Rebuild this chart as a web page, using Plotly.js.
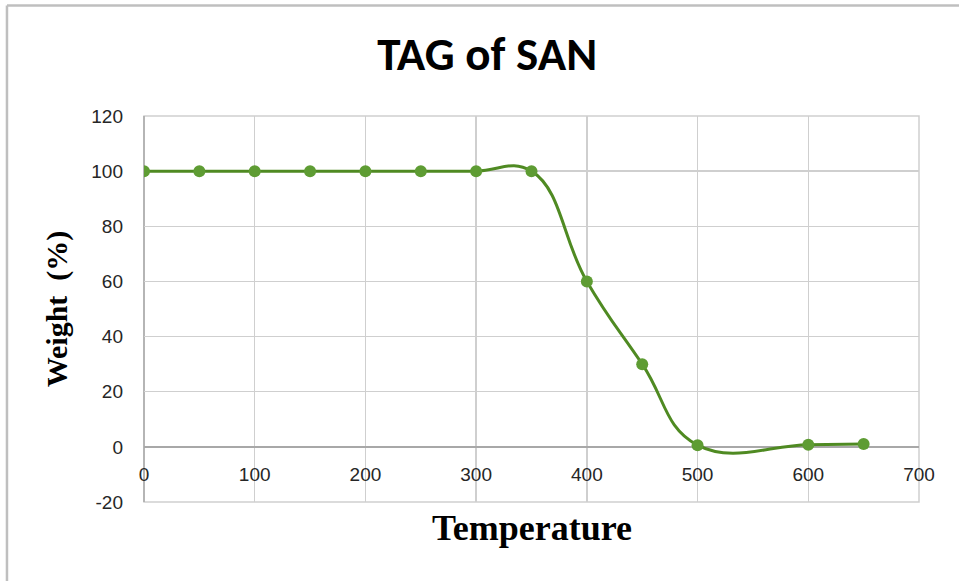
<!DOCTYPE html>
<html>
<head>
<meta charset="utf-8">
<script src="https://cdn.plot.ly/plotly-3.0.1.min.js"></script>
<style>html,body{margin:0;padding:0;background:#fff;}#chart{width:959px;height:581px;}</style>
</head>
<body>
<div id="chart"></div>
<script>
var temperature = [0, 50, 100, 150, 200, 250, 300, 350, 400, 450, 500, 600, 650];
var weight = [100, 100, 100, 100, 100, 100, 100, 100, 60, 30, 0.6, 0.8, 1];
var xTicks = [0, 100, 200, 300, 400, 500, 600, 700];
var yTicks = [-20, 0, 20, 40, 60, 80, 100, 120];

var tickFont = {family: '"Liberation Sans", Arial, sans-serif', size: 19, color: '#262626'};

var trace = {
  x: temperature,
  y: weight,
  type: 'scatter',
  mode: 'lines+markers',
  line: {shape: 'spline', smoothing: 1.25, color: '#4f8a22', width: 3},
  marker: {size: 12, color: '#5e9c33', line: {width: 0}},
  hoverinfo: 'x+y'
};

var layout = {
  width: 959, height: 581,
  margin: {l: 144, r: 40, t: 116, b: 79},
  paper_bgcolor: '#ffffff', plot_bgcolor: '#ffffff',
  showlegend: false,
  title: {
    text: '<b>TAG of SAN</b>',
    font: {family: 'Carlito, "Liberation Sans Narrow", "Open Sans", sans-serif', size: 47, color: '#000'},
    x: 0.508, xanchor: 'center', y: 0.908, yanchor: 'middle'
  },
  xaxis: {
    range: [0, 700], tickvals: xTicks, ticktext: xTicks.map(String),
    showgrid: true, gridcolor: '#cfcfcf', gridwidth: 1.5,
    zeroline: false, showline: false,
    anchor: 'free', position: 1/7,
    ticks: '', ticklabelstandoff: 14,
    tickfont: tickFont,
    fixedrange: true
  },
  yaxis: {
    range: [-20, 120], tickvals: yTicks, ticktext: yTicks.map(String),
    showgrid: true, gridcolor: '#cfcfcf', gridwidth: 1.5,
    zeroline: true, zerolinecolor: '#a8a8a8', zerolinewidth: 1.5,
    showline: false, ticks: '', ticklabelstandoff: 20,
    tickfont: tickFont,
    title: {text: '<b>Weight  (%)</b>', font: {family: '"Liberation Serif", "DejaVu Serif", serif', size: 30, color: '#000'}, standoff: 14},
    fixedrange: true
  },
  annotations: [{
    text: '<b>Temperature</b>', xref: 'paper', yref: 'paper', x: 0.5, y: -0.068,
    xanchor: 'center', yanchor: 'middle', showarrow: false,
    font: {family: '"Liberation Serif", "DejaVu Serif", serif', size: 36, color: '#000'}
  }],
  shapes: [
    {type: 'rect', xref: 'x domain', yref: 'y domain', x0: 0, x1: 1, y0: 0, y1: 1, line: {color: '#cfcfcf', width: 1.5}, layer: 'below'},
    {type: 'line', xref: 'x domain', yref: 'y domain', x0: 0, x1: 0, y0: 0, y1: 1, line: {color: '#a8a8a8', width: 1.5}, layer: 'below'},
    {type: 'line', xref: 'paper', yref: 'paper', x0: -0.1768, x1: 1.2, y0: 1.2863, y1: 1.2863, line: {color: '#bfbfbf', width: 2.5}},
    {type: 'line', xref: 'paper', yref: 'paper', x0: -0.1768, x1: -0.1768, y0: 1.2863, y1: -0.3, line: {color: '#bfbfbf', width: 2.5}}
  ]
};

Plotly.newPlot('chart', [trace], layout, {staticPlot: true, displayModeBar: false});
</script>
</body>
</html>
